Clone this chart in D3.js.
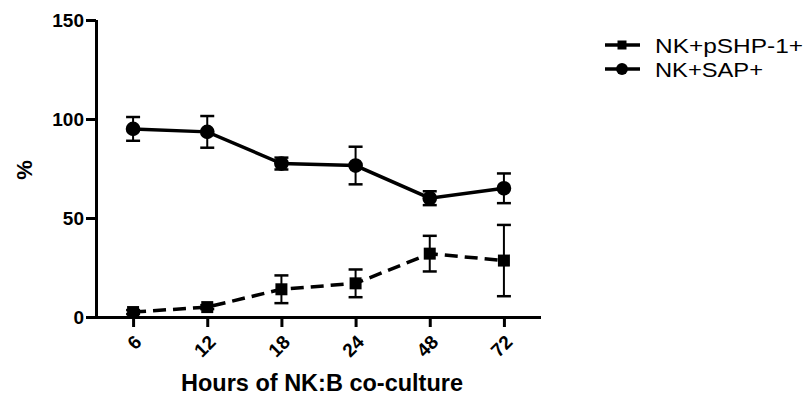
<!DOCTYPE html>
<html>
<head>
<meta charset="utf-8">
<script src="https://cdn.jsdelivr.net/npm/d3@7"></script>
<style>
  body { margin: 0; background: #fff; }
  svg text { font-family: Arial, "Liberation Sans", sans-serif; }
</style>
</head>
<body>
<div id="chart"></div>
<script>
// categories on x (hours)
const hours = ['6', '12', '18', '24', '48', '72'];
const y_ticks = [0, 50, 100, 150];

// NK+pSHP-1+ (dashed, squares)
const shp_mean = [2.5, 5, 14, 17, 32, 28.5];
const shp_err  = [1, 1, 7, 7, 9, 18];
// NK+SAP+ (solid, circles)
const sap_mean = [95, 93.5, 77.5, 76.5, 60, 65];
const sap_err  = [6, 8, 3, 9.5, 3.5, 7.5];

const series_names = ['NK+pSHP-1+', 'NK+SAP+'];

const W = 805, H = 396;
const MARGIN = { LEFT: 96, RIGHT: 264, TOP: 20, BOTTOM: 79 };

let svg = d3.select('#chart').append('svg')
    .attr('width', W)
    .attr('height', H);

let x = d3.scalePoint().domain(hours).range([MARGIN.LEFT, W - MARGIN.RIGHT]).padding(0.5);
let y = d3.scaleLinear().domain([0, 150]).range([H - MARGIN.BOTTOM, MARGIN.TOP]);

// axes
let y_axis = svg.append('g')
    .attr('transform', `translate(${MARGIN.LEFT},0)`)
    .call(d3.axisLeft(y).tickValues(y_ticks).tickSize(10).tickPadding(2).tickSizeOuter(0));
let x_axis = svg.append('g')
    .attr('transform', `translate(0,${H - MARGIN.BOTTOM})`)
    .call(d3.axisBottom(x).tickSize(10).tickSizeOuter(0));

[y_axis, x_axis].forEach(a => {
    a.select('.domain').attr('stroke', '#000').attr('stroke-width', 3);
    a.selectAll('.tick line').attr('stroke', '#000').attr('stroke-width', 3);
    a.selectAll('.tick text')
        .attr('fill', '#000')
        .attr('font-size', 19)
        .attr('font-weight', 'bold')
        .attr('font-family', 'Arial, "Liberation Sans", sans-serif');
});
// extend domains so lines meet at the corner
y_axis.select('.domain').attr('d', `M0.5,${y(150)}V${y(0) + 1.5}`);
x_axis.select('.domain').attr('d', `M${MARGIN.LEFT - 1.5},0.5H${W - MARGIN.RIGHT}`);

x_axis.selectAll('.tick text')
    .attr('text-anchor', 'end')
    .attr('dy', 0)
    .attr('transform', 'translate(0,17) rotate(-45)');

// axis titles
svg.append('text')
    .attr('transform', `translate(32,170) rotate(-90)`)
    .attr('text-anchor', 'middle')
    .attr('font-size', 22)
    .attr('font-weight', 'bold')
    .text('%');
svg.append('text')
    .attr('x', 322)
    .attr('y', 391)
    .attr('text-anchor', 'middle')
    .attr('font-size', 23.5)
    .attr('font-weight', 'bold')
    .text('Hours of NK:B co-culture');

function drawSeries(mean, err, dashed, shape) {
    let pts = hours.map((h, i) => ({ h: h, m: mean[i], e: err[i] }));
    let g = svg.append('g');
    g.append('path')
        .datum(pts)
        .attr('fill', 'none')
        .attr('stroke', '#000')
        .attr('stroke-width', 3.5)
        .attr('stroke-dasharray', dashed ? '13,7' : null)
        .attr('d', d3.line().x(d => x(d.h)).y(d => y(d.m)));
    // error bars
    let eb = g.selectAll('.err').data(pts).enter().append('g').attr('class', 'err')
        .attr('stroke', '#000').attr('stroke-width', 2);
    eb.append('line')
        .attr('x1', d => x(d.h)).attr('x2', d => x(d.h))
        .attr('y1', d => y(d.m + d.e)).attr('y2', d => y(d.m - d.e));
    eb.append('line')
        .attr('x1', d => x(d.h) - 7).attr('x2', d => x(d.h) + 7)
        .attr('y1', d => y(d.m + d.e)).attr('y2', d => y(d.m + d.e))
        .attr('stroke-width', 2.5);
    eb.append('line')
        .attr('x1', d => x(d.h) - 7).attr('x2', d => x(d.h) + 7)
        .attr('y1', d => y(d.m - d.e)).attr('y2', d => y(d.m - d.e))
        .attr('stroke-width', 2.5);
    // markers
    g.selectAll('.mk').data(pts).enter().append('path')
        .attr('class', 'mk')
        .attr('fill', '#000')
        .attr('transform', d => `translate(${x(d.h)},${y(d.m)})`)
        .attr('d', d3.symbol().type(shape).size(shape === d3.symbolSquare ? 144 : 170));
}

drawSeries(shp_mean, shp_err, true, d3.symbolSquare);
drawSeries(sap_mean, sap_err, false, d3.symbolCircle);

// legend
let legend = svg.append('g');
let shapes = [d3.symbolSquare, d3.symbolCircle];
let label_len = [148, 108];
series_names.forEach((name, i) => {
    let ly = 45 + i * 24;
    legend.append('line')
        .attr('x1', 605).attr('x2', 640)
        .attr('y1', ly).attr('y2', ly)
        .attr('stroke', '#000').attr('stroke-width', 3.5);
    legend.append('path')
        .attr('transform', `translate(622,${ly})`)
        .attr('fill', '#000')
        .attr('d', d3.symbol().type(shapes[i]).size(i === 0 ? 81 : 110));
    legend.append('text')
        .attr('x', 655)
        .attr('y', ly + 8)
        .attr('font-size', 21)
        .attr('textLength', label_len[i])
        .attr('lengthAdjust', 'spacingAndGlyphs')
        .text(name);
});
</script>
</body>
</html>
